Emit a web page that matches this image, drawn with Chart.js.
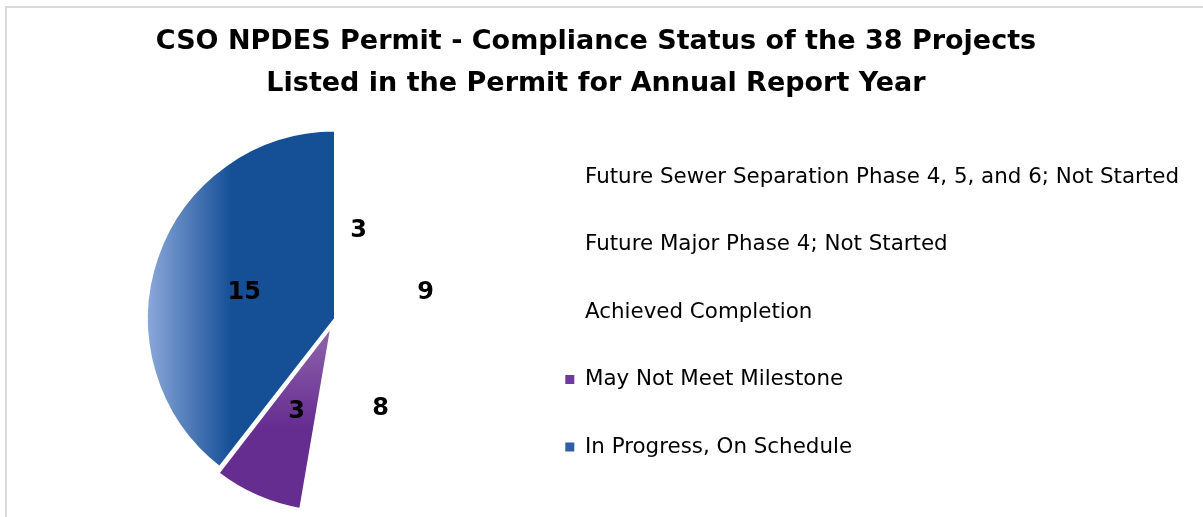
<!DOCTYPE html>
<html>
<head>
    <title>CSO NPDES Permit</title>
    <script src="https://cdn.jsdelivr.net/npm/chart.js"></script>
    <style>
        body { margin: 0; background: #fff; overflow: hidden; }
        .frame { position: absolute; left: 5px; top: 6px; width: 1400px; height: 700px;
                 border-left: 2px solid #d9d9d9; border-top: 2px solid #d9d9d9; }
        .title { position: absolute; left: 0; top: 19px; width: 1192px; text-align: center;
                 font: bold 27px "DejaVu Sans"; line-height: 42px; color: #000; }
        .wrap { position: absolute; left: 0; top: 0; width: 1203px; height: 517px; }
    </style>
</head>
<body>
    <div class="frame"></div>
    <div class="wrap"><canvas id="chart"></canvas></div>
    <div class="title">CSO NPDES Permit - Compliance Status of the 38 Projects<br>Listed in the Permit for Annual Report Year</div>

    <script>
        // data
        const categories = [
            'Future Sewer Separation Phase 4, 5, and 6; Not Started',
            'Future Major Phase 4; Not Started',
            'Achieved Completion',
            'May Not Meet Milestone',
            'In Progress, On Schedule'
        ];
        const projectCounts = [3, 9, 8, 3, 15];
        const legendColors = ['rgba(0,0,0,0)', 'rgba(0,0,0,0)', 'rgba(0,0,0,0)', '#6f3a9e', '#2f5ea6'];

        const R = 188;

        function sliceFill(ctx) {
            const chart = ctx.chart;
            const a = chart.chartArea;
            const i = ctx.dataIndex;
            if (i < 3) return 'rgba(0,0,0,0)';
            if (!a) return legendColors[i];
            const cx = (a.left + a.right) / 2, cy = (a.top + a.bottom) / 2;
            let g;
            if (i === 3) {
                g = chart.ctx.createLinearGradient(0, cy + 8, 0, cy + 100);
                g.addColorStop(0, '#8c62aa');
                g.addColorStop(1, '#662d91');
            } else {
                g = chart.ctx.createLinearGradient(cx - R, 0, cx - R * 0.55, 0);
                g.addColorStop(0, '#8ca8da');
                g.addColorStop(1, '#154f96');
            }
            return g;
        }

        // the exploded slice is drawn a little smaller, like the original
        const explodedSlice = {
            id: 'explodedSlice',
            afterUpdate(chart) {
                const arc = chart.getDatasetMeta(0).data[3];
                if (arc) arc.outerRadius = R - 8;
            }
        };

        // value labels on the slices
        const valueLabels = {
            id: 'valueLabels',
            afterDatasetsDraw(chart) {
                const c = chart.ctx;
                const meta = chart.getDatasetMeta(0);
                c.save();
                c.font = 'bold 24px "DejaVu Sans"';
                c.fillStyle = '#000';
                c.textAlign = 'center';
                c.textBaseline = 'middle';
                meta.data.forEach((arc, i) => {
                    const mid = (arc.startAngle + arc.endAngle) / 2;
                    const r = R * 0.51;
                    c.fillText(String(projectCounts[i]), arc.x + Math.cos(mid) * r, arc.y + Math.sin(mid) * r + 5.5);
                });
                c.restore();
            }
        };

        // let the legend box reach the right edge so long labels are not clipped
        const wideLegend = {
            id: 'wideLegend',
            afterLayout(chart) {
                const lg = chart.legend;
                lg.right = chart.width;
                lg.width = lg.right - lg.left;
            }
        };

        const chart = new Chart(document.getElementById('chart'), {
            type: 'pie',
            data: {
                labels: categories,
                datasets: [{
                    data: projectCounts,
                    backgroundColor: sliceFill,
                    borderColor: '#ffffff',
                    borderWidth: 2,
                    offset: [0, 0, 0, 36, 0]
                }]
            },
            options: {
                responsive: true,
                maintainAspectRatio: false,
                animation: false,
                events: [],
                radius: R,
                layout: { padding: { left: 150.8, right: 315.4, top: 120.2, bottom: -2.8 } },
                plugins: {
                    title: { display: false },
                    tooltip: { enabled: false },
                    legend: {
                        position: 'right',
                        align: 'start',
                        labels: {
                            font: { family: 'DejaVu Sans', size: 21.4 },
                            color: '#000',
                            boxWidth: 9,
                            boxHeight: 9,
                            padding: 46.1,
                            generateLabels(chart) {
                                const items = Chart.overrides.pie.plugins.legend.labels.generateLabels(chart);
                                items.forEach((it, i) => {
                                    it.fillStyle = legendColors[i];
                                    it.strokeStyle = 'rgba(0,0,0,0)';
                                    it.lineWidth = 0;
                                });
                                return items;
                            }
                        }
                    }
                }
            },
            plugins: [explodedSlice, valueLabels, wideLegend]
        });
    </script>
</body>
</html>
